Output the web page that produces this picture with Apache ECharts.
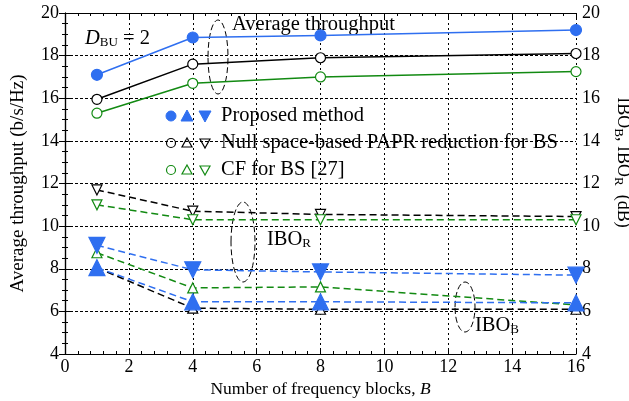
<!DOCTYPE html>
<html><head><meta charset="utf-8">
<script src="https://cdn.jsdelivr.net/npm/echarts@6/dist/echarts.min.js"></script>
<style>html,body{margin:0;padding:0;background:#fff}#c{width:629px;height:401px}</style>
</head><body><div id="c"></div>
<script>
const xs = [1, 4, 8, 16];
const thrProposed = [17.1, 18.85, 18.95, 19.2];
const thrNull = [15.95, 17.6, 17.9, 18.1];
const thrCF = [15.3, 16.7, 17.0, 17.25];
const iboRProposed = [9.1, 7.95, 7.85, 7.7];
const iboRNull = [11.7, 10.7, 10.55, 10.45];
const iboRCF = [11.0, 10.3, 10.3, 10.3];
const iboBProposed = [8.05, 6.45, 6.45, 6.4];
const iboBNull = [8.05, 6.15, 6.1, 6.1];
const iboBCF = [8.75, 7.1, 7.15, 6.3];
const xTicks = [0, 2, 4, 6, 8, 10, 12, 14, 16];
const yTicks = [4, 6, 8, 10, 12, 14, 16, 18, 20];
const legendNames = ['Proposed method', 'Null space-based PAPR reduction for BS', 'CF for BS [27]'];

const BLUE = '#2f6ff0', GREEN = '#128a12', BLACK = '#000';
const FONT = "'Liberation Serif','Times New Roman',serif";
const pair = a => xs.map((x, i) => [x, a[i]]);

function series(name, arr, color, sym, size, filled, dashed, rot) {
  return {
    name, type: 'line', data: pair(arr), xAxisIndex: 0, yAxisIndex: 0,
    symbol: sym, symbolSize: size, symbolRotate: rot || 0, showSymbol: true,
    lineStyle: { color, width: 1.5, type: dashed ? [7, 4] : 'solid' },
    itemStyle: { color: filled ? color : '#fff', borderColor: color, borderWidth: 1.2 },
    z: filled ? 5 : 3, animation: false
  };
}

const chart = echarts.init(document.getElementById('c'), null, { renderer: 'canvas' });
const axisCommon = {
  type: 'value', min: 4, max: 20, interval: 2,
  axisLine: { show: true, lineStyle: { color: '#000', width: 1.2 } },
  axisTick: { show: true, inside: true, length: 6, lineStyle: { color: '#000' } },
  minorTick: { show: true, splitNumber: 4, length: 3, lineStyle: { color: '#000' } },
  axisLabel: { color: '#000', fontFamily: FONT, fontSize: 18, margin: 6 },
  splitLine: { show: false }
};
const sub = { fontSize: 13, fontFamily: FONT, color: '#000', padding: [8, 0, 0, 0] };
const norm = { fontSize: 18, fontFamily: FONT, color: '#000' };
const subG = { fontSize: 13, fontFamily: FONT, fill: '#000', padding: [9, 0, 0, 0] };
const normG = { fontSize: 20.5, fontFamily: FONT, fill: '#000' };

chart.setOption({
  animation: false,
  grid: { left: 65, right: 53, top: 13, bottom: 47, outerBoundsMode: 'none', containLabel: false },
  xAxis: [{
    type: 'value', min: 0, max: 16, interval: 2, position: 'bottom',
    axisLine: { show: true, onZero: false, lineStyle: { color: '#000', width: 1.2 } },
    axisTick: { show: true, inside: true, length: 6, lineStyle: { color: '#000' } },
    minorTick: { show: true, splitNumber: 5, length: 3, lineStyle: { color: '#000' } },
    axisLabel: { color: '#000', fontFamily: FONT, fontSize: 18, margin: 4, formatter: v => xTicks.includes(v) ? String(v) : '' },
    splitLine: { show: true, lineStyle: { color: '#000', type: [2, 3], width: 1 } },
    name: '{n|Number of frequency blocks, }{i|B}', nameLocation: 'middle', nameGap: 26,
    nameTextStyle: { rich: { n: { fontSize: 17.5, fontFamily: FONT, color: '#000' }, i: { fontSize: 17.5, fontFamily: FONT, color: '#000', fontStyle: 'italic' } } }
  }, {
    type: 'value', min: 0, max: 16, interval: 2, position: 'top',
    axisLine: { show: true, onZero: false, lineStyle: { color: '#000', width: 1.2 } },
    axisTick: { show: true, inside: true, length: 6, lineStyle: { color: '#000' } },
    minorTick: { show: true, splitNumber: 5, length: 3, lineStyle: { color: '#000' } },
    axisLabel: { show: false }, splitLine: { show: false }
  }],
  yAxis: [Object.assign({}, axisCommon, {
    position: 'left',
    axisLabel: Object.assign({}, axisCommon.axisLabel, { formatter: v => yTicks.includes(v) ? String(v) : '' }),
    splitLine: { show: true, lineStyle: { color: '#000', type: [3, 2], width: 1 } },
    name: 'Average throughput (b/s/Hz)', nameLocation: 'middle', nameGap: 37,
    nameTextStyle: { fontFamily: FONT, fontSize: 19, color: '#000' }
  }), Object.assign({}, axisCommon, {
    position: 'right',
    axisLabel: Object.assign({}, axisCommon.axisLabel, { formatter: v => yTicks.includes(v) ? String(v) : '' }),
    name: '{n|IBO}{s|B}{n|, IBO}{s|R}{n|  (dB)}', nameLocation: 'middle', nameGap: 36, nameRotate: -90,
    nameTextStyle: { rich: { n: norm, s: sub }, padding: [0, 42, 0, 0] }
  })],
  series: [
    series(legendNames[0], thrProposed, BLUE, 'circle', 11, true, false),
    series(legendNames[1], thrNull, BLACK, 'circle', 10, false, false),
    series(legendNames[2], thrCF, GREEN, 'circle', 10, false, false),
    series('IBO_R Null', iboRNull, BLACK, 'triangle', 10, false, true, 180),
    series('IBO_R CF', iboRCF, GREEN, 'triangle', 10, false, true, 180),
    series('IBO_B Null', iboBNull, BLACK, 'triangle', 10, false, true),
    series('IBO_B CF', iboBCF, GREEN, 'triangle', 10, false, true),
    series('IBO_R Proposed', iboRProposed, BLUE, 'triangle', 16, true, true, 180),
    series('IBO_B Proposed', iboBProposed, BLUE, 'triangle', 16, true, true)
  ],
  graphic: [
    // annotations
    { type: 'text', left: 85, top: 28, style: { text: '{i|D}{s|BU}{n| = 2}', rich: { i: Object.assign({}, normG, { fontStyle: 'italic' }), s: subG, n: normG } } },
    { type: 'text', left: 232, top: 14, style: { text: 'Average throughput', font: "20.5px " + FONT, fill: '#000' } },
    { type: 'ellipse', shape: { cx: 218, cy: 57, rx: 10, ry: 37 }, style: { fill: 'none', stroke: '#000', lineWidth: 1, lineDash: [6, 3] } },
    { type: 'ellipse', shape: { cx: 243, cy: 242, rx: 12, ry: 40 }, style: { fill: 'none', stroke: '#000', lineWidth: 1, lineDash: [6, 3] } },
    { type: 'text', left: 267, top: 229, style: { text: '{n|IBO}{s|R}', rich: { n: normG, s: subG } } },
    { type: 'ellipse', shape: { cx: 465, cy: 307, rx: 10, ry: 25 }, style: { fill: 'none', stroke: '#000', lineWidth: 1, lineDash: [6, 3] } },
    { type: 'text', left: 475, top: 315, style: { text: '{n|IBO}{s|B}', rich: { n: normG, s: subG } } },
    // legend markers
    { type: 'circle', shape: { cx: 171, cy: 116, r: 5 }, style: { fill: BLUE, stroke: BLUE } },
    { type: 'polygon', shape: { points: [[187, 110], [193, 121], [181, 121]] }, style: { fill: BLUE, stroke: BLUE } },
    { type: 'polygon', shape: { points: [[199, 111], [211, 111], [205, 122]] }, style: { fill: BLUE, stroke: BLUE } },
    { type: 'circle', shape: { cx: 171, cy: 143, r: 4.5 }, style: { fill: '#fff', stroke: BLACK, lineWidth: 1.2 } },
    { type: 'polygon', shape: { points: [[187, 138], [192, 147], [182, 147]] }, style: { fill: '#fff', stroke: BLACK, lineWidth: 1.2 } },
    { type: 'polygon', shape: { points: [[200, 139], [210, 139], [205, 148]] }, style: { fill: '#fff', stroke: BLACK, lineWidth: 1.2 } },
    { type: 'circle', shape: { cx: 171, cy: 170, r: 4.5 }, style: { fill: '#fff', stroke: GREEN, lineWidth: 1.2 } },
    { type: 'polygon', shape: { points: [[187, 165], [192, 174], [182, 174]] }, style: { fill: '#fff', stroke: GREEN, lineWidth: 1.2 } },
    { type: 'polygon', shape: { points: [[200, 166], [210, 166], [205, 175]] }, style: { fill: '#fff', stroke: GREEN, lineWidth: 1.2 } },
    { type: 'text', left: 221, top: 105, style: { text: legendNames[0], font: "20.5px " + FONT, fill: '#000' } },
    { type: 'text', left: 221, top: 132, style: { text: legendNames[1], font: "20.5px " + FONT, fill: '#000' } },
    { type: 'text', left: 221, top: 159, style: { text: legendNames[2], font: "20.5px " + FONT, fill: '#000' } }
  ]
});
</script></body></html>
